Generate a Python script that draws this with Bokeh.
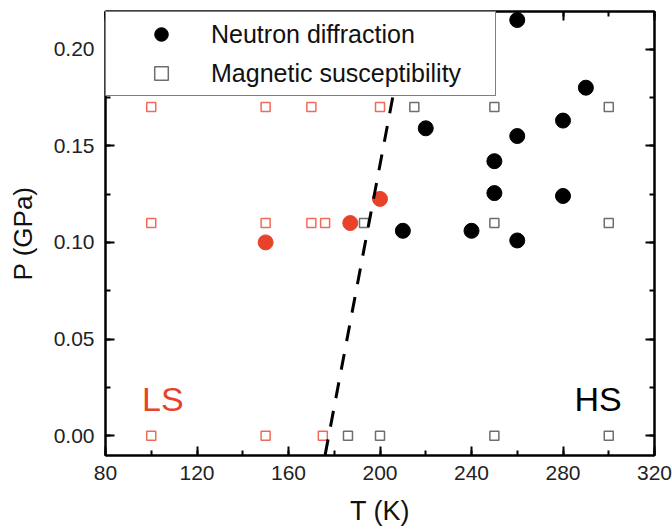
from bokeh.plotting import figure
from bokeh.models import (LinearAxis, SingleIntervalTicker, Legend, LegendItem,
                          Range1d, Label, NumeralTickFormatter, CustomLabelingPolicy)
from bokeh.embed import file_html
from bokeh.resources import INLINE

# Neutron diffraction, high-spin side (black)
nd_hs_T = [260, 290, 280, 260, 220, 250, 250, 280, 210, 240, 260]
nd_hs_P = [0.215, 0.180, 0.163, 0.155, 0.159, 0.142, 0.1255, 0.124, 0.106, 0.106, 0.101]
# Neutron diffraction, low-spin side (red)
nd_ls_T = [150, 187, 200]
nd_ls_P = [0.100, 0.110, 0.1225]
# Magnetic susceptibility, low-spin (red squares)
ms_ls_T = [100, 150, 170, 200, 100, 150, 170, 176, 100, 150, 175]
ms_ls_P = [0.17, 0.17, 0.17, 0.17, 0.11, 0.11, 0.11, 0.11, 0.0, 0.0, 0.0]
# Magnetic susceptibility, high-spin (gray squares)
ms_hs_T = [215, 250, 300, 193, 250, 300, 186, 200, 250, 300]
ms_hs_P = [0.17, 0.17, 0.17, 0.11, 0.11, 0.11, 0.0, 0.0, 0.0, 0.0]
# Phase boundary (dashed)
bound_T = [176, 207]
bound_P = [-0.01, 0.184]

FONT = "Liberation Sans"
RED = "#E8432A"
RED_LIGHT = "#F06A5A"
GRAY = "#6E6E6E"

p = figure(width=672, height=532, x_range=Range1d(80, 320), y_range=Range1d(-0.0102, 0.2194),
           output_backend="svg", toolbar_location=None,
           min_border_left=105, min_border_right=18, min_border_top=11, min_border_bottom=77)
p.grid.visible = False
p.outline_line_color = "black"
p.outline_line_width = 2
p.background_fill_color = "white"

xt = SingleIntervalTicker(interval=40, num_minor_ticks=2)
yt = SingleIntervalTicker(interval=0.05, num_minor_ticks=2)

def style_axis(ax, ticker, show_labels):
    ax.ticker = ticker
    ax.axis_line_color = "black"
    ax.axis_line_width = 2
    ax.major_tick_in = 9
    ax.major_tick_out = 0
    ax.minor_tick_in = 5
    ax.minor_tick_out = 0
    ax.major_tick_line_width = 2
    ax.minor_tick_line_width = 2
    ax.major_tick_line_color = "black"
    ax.minor_tick_line_color = "black"
    if show_labels:
        ax.major_label_text_font = FONT
        ax.major_label_text_font_size = "21px"
        ax.major_label_text_color = "#222222"
        ax.axis_label_text_font = FONT
        ax.axis_label_text_font_style = "normal"
        ax.axis_label_text_color = "#111111"
    else:
        ax.major_label_text_font_size = "0px"
        ax.major_label_standoff = 0
        ax.major_label_policy = CustomLabelingPolicy(code="return []")

xa = p.xaxis[0]
ya = p.yaxis[0]
style_axis(xa, xt, True)
style_axis(ya, yt, True)
xa.axis_label = "T (K)"
ya.axis_label = "P (GPa)"
xa.axis_label_text_font_size = "27px"
ya.axis_label_text_font_size = "26px"
xa.major_label_standoff = 10
xa.axis_label_standoff = 13
ya.major_label_standoff = 11
ya.axis_label_standoff = 13
ya.formatter = NumeralTickFormatter(format="0.00")

top = LinearAxis()
style_axis(top, SingleIntervalTicker(interval=40, num_minor_ticks=2), False)
p.add_layout(top, "above")
right = LinearAxis()
style_axis(right, SingleIntervalTicker(interval=0.05, num_minor_ticks=2), False)
p.add_layout(right, "right")

r_ms_ls = p.scatter(ms_ls_T, ms_ls_P, marker="square", size=9, fill_color=None,
                    line_color=RED_LIGHT, line_width=1.5)
r_ms_hs = p.scatter(ms_hs_T, ms_hs_P, marker="square", size=9, fill_color=None,
                    line_color=GRAY, line_width=1.5)
r_nd_ls = p.scatter(nd_ls_T, nd_ls_P, marker="circle", size=15, fill_color=RED,
                    line_color=RED)
r_nd_hs = p.scatter(nd_hs_T, nd_hs_P, marker="circle", size=15, fill_color="black",
                    line_color="black")
p.line(bound_T, bound_P, line_dash="16 13", line_width=3, line_color="black")

p.add_layout(Label(x=96, y=0.019, text="LS", text_font=FONT, text_font_size="34px",
                   text_color=RED, text_baseline="alphabetic"))
p.add_layout(Label(x=285, y=0.019, text="HS", text_font=FONT, text_font_size="34px",
                   text_color="black", text_baseline="alphabetic"))

legend = Legend(items=[LegendItem(label="Neutron diffraction", renderers=[r_nd_hs]),
                       LegendItem(label="Magnetic susceptibility", renderers=[r_ms_hs])],
                location="top_left", margin=0, padding=5, spacing=5,
                glyph_width=100, glyph_height=34, label_height=34,
                label_standoff=0, label_width=279,
                border_line_color="black", border_line_width=1.5,
                background_fill_color="white", background_fill_alpha=1.0,
                label_text_font=FONT, label_text_font_size="25px",
                label_text_color="#111111")
p.add_layout(legend)

open("out.html", "w").write(file_html(p, INLINE))
